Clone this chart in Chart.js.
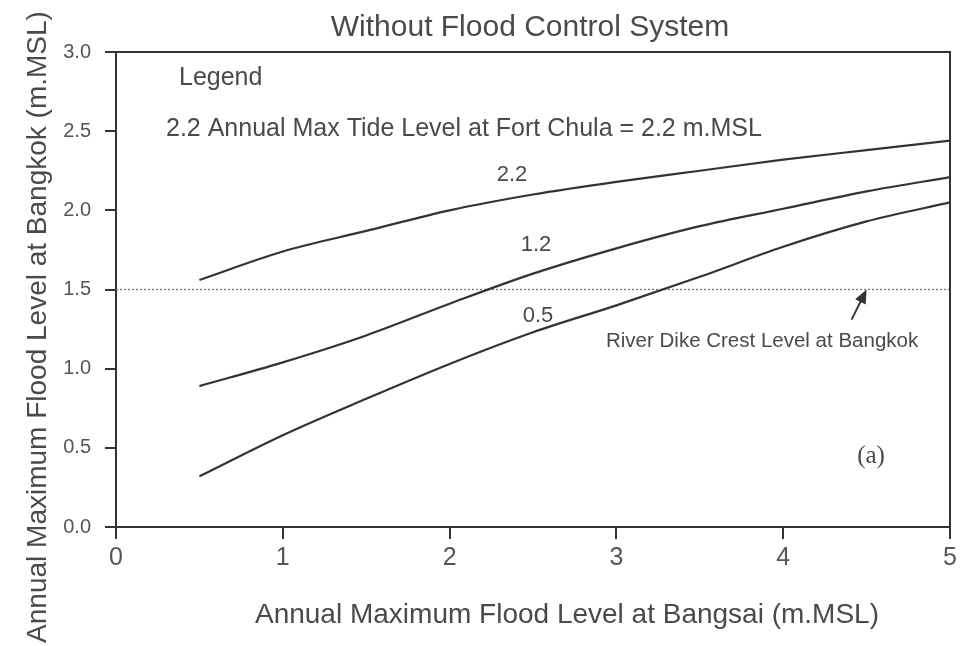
<!DOCTYPE html>
<html>
<head>
<meta charset="utf-8">
<script src="https://cdn.jsdelivr.net/npm/chart.js@4.4.1/dist/chart.umd.min.js"></script>
<style>
  html, body { margin: 0; padding: 0; background: #fff; }
  #wrap { width: 964px; height: 646px; }
</style>
</head>
<body>
<div id="wrap"><canvas id="c" width="964" height="646"></canvas></div>
<script>
// x: annual max flood level at Bangsai (m.MSL)
const bangsai = [0.5, 1, 1.5, 2, 2.5, 3, 3.5, 4, 4.5, 5];
// y: annual max flood level at Bangkok, one curve per Fort Chula tide level
const tide22 = [1.56, 1.74, 1.87, 2.00, 2.10, 2.18, 2.25, 2.32, 2.38, 2.44];
const tide12 = [0.89, 1.04, 1.21, 1.41, 1.60, 1.76, 1.90, 2.01, 2.12, 2.21];
const tide05 = [0.32, 0.58, 0.81, 1.03, 1.23, 1.40, 1.58, 1.77, 1.93, 2.05];
const tideLabels = ['2.2', '1.2', '0.5'];
const dikeLevel = 1.5;
const xTicks = [0, 1, 2, 3, 4, 5];
const yTicks = [0, 0.5, 1.0, 1.5, 2.0, 2.5, 3.0];

const INK = '#333';
const TXT = '#4a4a4a';
const SANS = '"Liberation Sans", Arial, sans-serif';

const pts = ys => bangsai.map((x, i) => ({ x: x, y: ys[i] }));
const curve = ys => ({
    data: pts(ys),
    borderColor: INK,
    borderWidth: 2.2,
    pointRadius: 0,
    tension: 0.4,
    cubicInterpolationMode: 'monotone',
    fill: false
});

const decor = {
    id: 'decor',
    afterDraw(chart) {
        const ctx = chart.ctx;
        const a = chart.chartArea;
        const xs = chart.scales.x, ys = chart.scales.y;
        ctx.save();

        // frame top + right
        ctx.strokeStyle = INK;
        ctx.lineWidth = 2;
        ctx.beginPath();
        ctx.moveTo(a.left, a.top);
        ctx.lineTo(a.right, a.top);
        ctx.lineTo(a.right, a.bottom);
        ctx.stroke();

        ctx.fillStyle = TXT;
        ctx.textBaseline = 'middle';

        // title
        ctx.textAlign = 'center';
        ctx.font = '30px ' + SANS;
        ctx.fillText('Without Flood Control System', 530, 28);

        // axis titles
        ctx.font = '28px ' + SANS;
        ctx.fillText('Annual Maximum Flood Level at Bangsai (m.MSL)', 567, 615);
        ctx.save();
        ctx.translate(38, 327);
        ctx.rotate(-Math.PI / 2);
        ctx.fillText('Annual Maximum Flood Level at Bangkok (m.MSL)', 0, 0);
        ctx.restore();

        // legend
        ctx.textAlign = 'left';
        ctx.font = '25px ' + SANS;
        ctx.fillText('Legend', 179, 78);
        ctx.fillText('2.2 Annual Max Tide Level at Fort Chula = 2.2 m.MSL', 166, 129);

        // curve labels
        ctx.textAlign = 'center';
        ctx.font = '22px ' + SANS;
        ctx.fillText(tideLabels[0], 512, 175);
        ctx.fillText(tideLabels[1], 536, 245);
        ctx.fillText(tideLabels[2], 538, 316);

        // dike note + arrow
        ctx.textAlign = 'left';
        ctx.font = '20.5px ' + SANS;
        ctx.fillText('River Dike Crest Level at Bangkok', 606, 341);

        const tx = xs.getPixelForValue(4.5), ty = ys.getPixelForValue(dikeLevel);
        const fx = xs.getPixelForValue(4.41), fy = ys.getPixelForValue(1.31);
        const ang = Math.atan2(ty - fy, tx - fx);
        ctx.strokeStyle = INK;
        ctx.lineWidth = 2;
        ctx.beginPath();
        ctx.moveTo(fx, fy);
        ctx.lineTo(tx - 8 * Math.cos(ang), ty - 8 * Math.sin(ang));
        ctx.stroke();
        ctx.fillStyle = INK;
        ctx.beginPath();
        ctx.moveTo(tx, ty);
        ctx.lineTo(tx - 15 * Math.cos(ang - 0.4), ty - 15 * Math.sin(ang - 0.4));
        ctx.lineTo(tx - 15 * Math.cos(ang + 0.4), ty - 15 * Math.sin(ang + 0.4));
        ctx.closePath();
        ctx.fill();

        // panel tag
        ctx.fillStyle = TXT;
        ctx.textAlign = 'center';
        ctx.font = '25px "Liberation Serif", "DejaVu Serif", serif';
        ctx.fillText('(a)', 871, 456);

        ctx.restore();
    }
};

new Chart(document.getElementById('c'), {
    type: 'line',
    data: {
        datasets: [
            curve(tide22),
            curve(tide12),
            curve(tide05),
            {
                data: [{ x: xTicks[0], y: dikeLevel }, { x: xTicks[xTicks.length - 1], y: dikeLevel }],
                borderColor: '#777',
                borderWidth: 1.3,
                borderDash: [2, 2],
                pointRadius: 0,
                fill: false
            }
        ]
    },
    options: {
        responsive: false,
        animation: false,
        events: [],
        layout: { padding: { top: 52, right: 14, left: 0, bottom: 0 } },
        plugins: { legend: { display: false }, tooltip: { enabled: false } },
        scales: {
            x: {
                type: 'linear',
                min: 0, max: 5,
                afterFit: s => { s.height = 119; },
                afterBuildTicks: s => { s.ticks = xTicks.map(v => ({ value: v })); },
                border: { display: true, color: INK, width: 2 },
                grid: { drawOnChartArea: false, drawTicks: true, tickLength: 12, color: INK, lineWidth: 2 },
                ticks: { color: '#555', font: { family: SANS, size: 25 }, padding: 4, callback: v => String(v) }
            },
            y: {
                type: 'linear',
                min: 0, max: 3,
                afterFit: s => { s.width = 116; },
                afterBuildTicks: s => { s.ticks = yTicks.map(v => ({ value: v })); },
                border: { display: true, color: INK, width: 2 },
                grid: { drawOnChartArea: false, drawTicks: true, tickLength: 11, color: INK, lineWidth: 2 },
                ticks: { color: '#555', font: { family: SANS, size: 20 }, padding: 14, callback: v => v.toFixed(1) }
            }
        }
    },
    plugins: [decor]
});
</script>
</body>
</html>
